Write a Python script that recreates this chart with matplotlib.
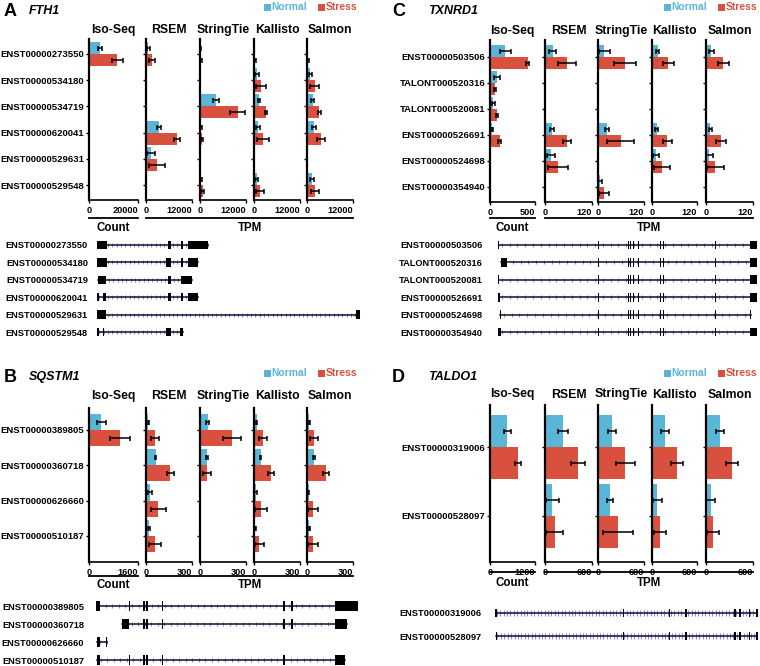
import numpy as np
import matplotlib.pyplot as plt
from matplotlib.patches import Rectangle

plt.rcParams['font.family'] = ['Liberation Sans', 'DejaVu Sans']
plt.rcParams['font.weight'] = 'bold'

W, H = 760, 666
NORMAL = '#5ab6d6'
STRESS = '#d9503f'

methods = ['Iso-Seq', 'RSEM', 'StringTie', 'Kallisto', 'Salmon']

# ---------------- A: FTH1 ----------------
fth1_tx = ['ENST00000273550', 'ENST00000534180', 'ENST00000534719',
           'ENST00000620041', 'ENST00000529631', 'ENST00000529548']
fth1_max = [20000, 12000, 12000, 12000, 12000]
fth1_norm = [[4500, 0, 0, 0, 0, 0],
             [600, 0, 0, 3400, 1300, 0],
             [150, 0, 4200, 200, 0, 200],
             [50, 700, 1300, 950, 0, 700],
             [50, 850, 1450, 1900, 0, 1300]]
fth1_norm_err = [[1000, 0, 0, 0, 0, 0],
                 [400, 0, 0, 500, 1000, 0],
                 [200, 0, 850, 200, 0, 200],
                 [0, 500, 300, 500, 0, 400],
                 [0, 400, 300, 500, 0, 400]]
fth1_str = [[11600, 0, 0, 0, 0, 0],
            [1550, 0, 0, 8050, 2850, 0],
            [350, 0, 9800, 450, 0, 700],
            [250, 1950, 3200, 2350, 0, 1650],
            [250, 2050, 3150, 3600, 0, 2150]]
fth1_str_err = [[2200, 0, 0, 0, 0, 0],
                [800, 0, 0, 700, 2000, 0],
                [300, 0, 1900, 300, 0, 400],
                [150, 1300, 300, 1500, 0, 1000],
                [150, 1200, 400, 1100, 0, 1000]]
fth1_exons = [[(0, 3.8), (27, 28.1), (31.9, 32.7), (34.6, 42.2)],
              [(0, 3.8), (26.2, 28.1), (31.9, 32.7), (34.6, 38.4)],
              [(0.4, 3.4), (27, 28.1), (31.9, 36.1)],
              [(0, 0.8), (2.3, 3.4), (27, 28.1), (31.9, 32.7), (34.6, 38.4)],
              [(0, 3.4), (98.5, 100)],
              [(0, 0.8), (2.3, 2.7), (26.2, 28.1), (31.6, 32.7)]]

# ---------------- B: SQSTM1 ----------------
sqstm1_tx = ['ENST00000389805', 'ENST00000360718', 'ENST00000626660', 'ENST00000510187']
sqstm1_max = [1600, 300, 300, 300, 300]
sqstm1_norm = [[400, 5, 0, 0],
               [15, 62, 26, 19],
               [49, 45, 0, 0],
               [17, 43, 11, 9],
               [15, 47, 11, 15]]
sqstm1_norm_err = [[150, 0, 0, 0],
                   [5, 6, 15, 8],
                   [8, 8, 0, 0],
                   [4, 4, 8, 5],
                   [5, 5, 5, 5]]
sqstm1_str = [[1000, 5, 0, 0],
              [58, 158, 81, 58],
              [210, 45, 0, 0],
              [56, 111, 45, 34],
              [47, 124, 39, 39]]
sqstm1_str_err = [[330, 0, 0, 0],
                  [27, 23, 51, 37],
                  [57, 27, 0, 0],
                  [26, 21, 38, 30],
                  [26, 18, 32, 32]]
sqstm1_exons = [[(0, 1.5), (12.5, 12.9), (17.8, 18.7), (19.1, 20.0), (25.2, 25.6),
                 (71.2, 72.1), (74.4, 75.1), (91.2, 100)],
                [(9.8, 12.6), (17.8, 18.7), (19.1, 20.0), (25.2, 25.6),
                 (71.2, 72.1), (74.4, 75.1), (91.2, 95.7)],
                [(0.3, 1.5), (3.9, 4.2)],
                [(0.5, 1.5), (12.5, 12.9), (17.8, 18.7), (19.1, 20.0), (25.2, 25.6),
                 (71.2, 72.1), (91.2, 95.0)]]

# ---------------- C: TXNRD1 ----------------
txnrd1_tx = ['ENST00000503506', 'TALONT000520316', 'TALONT000520081',
             'ENST00000526691', 'ENST00000524698', 'ENST00000354940']
txnrd1_max = [500, 120, 120, 120, 120]
txnrd1_norm = [[170, 76, 38, 27, 2, 0],
               [19.5, 0, 0, 18, 15, 1],
               [16.5, 0, 0, 23.5, 1, 6],
               [15.5, 0, 0, 13, 11, 0.5],
               [13.5, 0, 0, 11, 8.5, 0.5]]
txnrd1_norm_err = [[60, 30, 15, 10, 0, 0],
                   [9, 0, 0, 5, 10, 0],
                   [14, 0, 0, 5, 0, 5],
                   [4, 0, 0, 4, 8.5, 0],
                   [7, 0, 0, 4, 9, 0]]
txnrd1_str = [[417, 53, 80, 106, 2, 0],
              [56, 0, 0, 56, 33, 1],
              [71, 0, 0, 59, 0, 15.5],
              [43, 0, 0, 41, 26, 0.5],
              [44.5, 0, 0, 39, 24, 0.5]]
txnrd1_str_err = [[12, 10, 12, 12, 0, 0],
                  [22, 0, 0, 10, 26, 0],
                  [29, 0, 0, 35, 0, 12],
                  [15, 0, 0, 12, 21, 0],
                  [15, 0, 0, 13, 22, 0]]
txnrd1_inner = [(38.5, 39.0), (41.6, 41.8), (45.1, 45.3), (46.2, 46.4), (50.1, 50.6),
                (51.0, 51.4), (52.0, 52.5), (54.0, 54.5), (55.5, 55.7), (58.6, 58.8),
                (61.3, 61.5), (62.4, 62.9), (63.6, 64.0), (66.3, 66.5), (68.2, 68.4),
                (70.2, 70.4), (74.8, 75.0), (79.1, 79.3), (83.7, 84.2), (86.8, 87.0),
                (92.2, 92.4)]
txnrd1_first = [(0, 0.4), (1.2, 3.4), (0, 0.4), (0, 0.8), (0.8, 1.1), (0, 1.2)]
txnrd1_last = [(97.3, 100), (97.3, 100), (97.3, 100), (97.3, 100), (97.2, 97.5), (97.3, 100)]

# ---------------- D: TALDO1 ----------------
taldo1_tx = ['ENST00000319006', 'ENST00000528097']
taldo1_max = [1200, 600, 600, 600, 600]
taldo1_norm = [[462, 8], [227, 94], [184, 159], [176, 73], [176, 60]]
taldo1_norm_err = [[95, 0], [66, 81], [56, 41], [51, 58], [54, 60]]
taldo1_str = [[748, 8], [420, 124], [356, 257], [330, 107], [335, 90]]
taldo1_str_err = [[85, 0], [92, 107], [124, 193], [79, 83], [75, 81]]
taldo1_exons = [[(0, 0.8), (48.6, 49.1), (66.0, 66.5), (72.4, 72.9), (91.0, 91.6),
                 (92.9, 93.5), (96.4, 97.0), (99.4, 100)],
                [(0.3, 0.7), (48.6, 49.1), (66.0, 66.5), (72.4, 72.9), (91.0, 91.6),
                 (92.9, 93.5), (96.4, 97.0), (99.4, 100)]]

fig = plt.figure(figsize=(W / 100, H / 100), dpi=100)


def box(x0, y0, x1, y1):
    return [x0 / W, 1 - y1 / H, (x1 - x0) / W, (y1 - y0) / H]


over = fig.add_axes([0, 0, 1, 1])
over.set_xlim(0, W)
over.set_ylim(H, 0)
over.axis('off')


def bar_panel(xs, yt, yb, ylim, tx, norm, norm_err, stre, stre_err, xmax, tpad):
    rows = np.arange(len(tx))
    for k, (xa, xb) in enumerate(xs):
        ax = fig.add_axes(box(xa, yt, xb, yb))
        n, ne = np.array(norm[k], float), np.array(norm_err[k], float)
        s, se = np.array(stre[k], float), np.array(stre_err[k], float)
        ax.barh(rows - 0.23, n, height=0.46, color=NORMAL, lw=0)
        ax.barh(rows + 0.23, s, height=0.46, color=STRESS, lw=0)
        for v, e, off in [(n, ne, -0.23), (s, se, 0.23)]:
            m = e > 0
            if m.any():
                ax.errorbar(v[m], rows[m] + off, xerr=e[m], fmt='none', ecolor='black',
                            elinewidth=1.1, capsize=1.8, capthick=1.1)
        ax.set_xlim(0, xmax[k])
        ax.set_ylim(ylim[1], ylim[0])
        ax.set_xticks([0, xmax[k]])
        ax.set_xticklabels(['0', str(xmax[k])], fontsize=6.6)
        ax.get_xticklabels()[1].set_horizontalalignment('right')
        ax.set_yticks(rows)
        ax.set_yticklabels(tx if k == 0 else [], fontsize=6.8)
        ax.tick_params(axis='y', length=2.5, width=1, pad=1)
        ax.tick_params(axis='x', length=2.5, width=1, pad=1.5)
        ax.spines['top'].set_visible(False)
        ax.spines['right'].set_visible(False)
        ax.spines['left'].set_linewidth(1.6)
        ax.spines['bottom'].set_linewidth(1.2)
        ax.set_title(methods[k], fontsize=8.8, fontweight='bold', pad=tpad)


def gene_panel(xa, xb, yt, yb, ylim, tx, exons, hex_, step, pad):
    ax = fig.add_axes(box(xa, yt, xb, yb))
    ax.set_xlim(0, 100)
    ax.set_ylim(ylim[1], ylim[0])
    for i, ex in enumerate(exons):
        s = min(e[0] for e in ex)
        t = max(e[1] for e in ex)
        ax.vlines(np.arange(s + step / 2, t, step), i - 0.12, i + 0.12,
                  color='#8a8af0', lw=0.8, zorder=1)
        ax.plot([s, t], [i, i], color='#10102a', lw=1.1, zorder=2)
        for a, b in ex:
            ax.add_patch(Rectangle((a, i - hex_ / 2), b - a, hex_, color='black',
                                   lw=0, zorder=3))
    ax.set_yticks(range(len(tx)))
    ax.set_yticklabels(tx, fontsize=6.7)
    ax.tick_params(axis='y', length=0, pad=pad)
    ax.set_xticks([])
    for sp in ax.spines.values():
        sp.set_visible(False)


left_cols = [(89, 138), (146, 192), (200, 246), (254, 300), (307, 353)]
right_cols = [(490, 535), (545, 592), (598, 644), (652, 697), (706, 753)]

bar_panel(left_cols, 39, 200, (-0.57, 5.57), fth1_tx, fth1_norm, fth1_norm_err,
          fth1_str, fth1_str_err, fth1_max, 4)
bar_panel(right_cols, 40, 202, (-0.65, 5.58), txnrd1_tx, txnrd1_norm, txnrd1_norm_err,
          txnrd1_str, txnrd1_str_err, txnrd1_max, 4)
bar_panel(left_cols, 408, 562, (-0.62, 3.74), sqstm1_tx, sqstm1_norm, sqstm1_norm_err,
          sqstm1_str, sqstm1_str_err, sqstm1_max, 6.8)
bar_panel(right_cols, 405, 562, (-0.61, 1.67), taldo1_tx, taldo1_norm, taldo1_norm_err,
          taldo1_str, taldo1_str_err, taldo1_max, 5.4)

txnrd1_exons = [[f] + txnrd1_inner + [l] for f, l in zip(txnrd1_first, txnrd1_last)]
gene_panel(97, 360, 236.3, 340.7, (-0.5, 5.5), fth1_tx, fth1_exons, 0.48, 1.65, 6.5)
gene_panel(498, 757, 236.3, 340.7, (-0.5, 5.5), txnrd1_tx, txnrd1_exons, 0.5, 3.0, 11)
gene_panel(96, 358, 597, 666, (-0.5, 3.33), sqstm1_tx, sqstm1_exons, 0.55, 2.5, 8.5)
gene_panel(495, 758, 601.5, 647.5, (-0.5, 1.5), taldo1_tx, taldo1_exons, 0.32, 1.3, 9.4)

# panel headers, legends and unit underlines
headers = [('A', 'FTH1', 4, 29, 11, 0), ('C', 'TXNRD1', 392, 428, 11, 400),
           ('B', 'SQSTM1', 4, 29, 377, 0), ('D', 'TALDO1', 392, 428, 377, 400)]
for letter, gene, lx, gx, y, dx in headers:
    over.text(lx, y, letter, fontsize=13, fontweight='bold', va='center', ha='left')
    over.text(gx, y, gene, fontsize=9, fontweight='bold', style='italic', va='center', ha='left')
    over.add_patch(Rectangle((264 + dx, y - 7.5), 6.5, 7, color=NORMAL, lw=0))
    over.text(271.5 + dx, y - 3.5, 'Normal', color=NORMAL, fontsize=7.4, va='center', ha='left')
    over.add_patch(Rectangle((318 + dx, y - 7.5), 6.5, 7, color=STRESS, lw=0))
    over.text(325.5 + dx, y - 3.5, 'Stress', color=STRESS, fontsize=7.4, va='center', ha='left')

units = [(left_cols, 218, 228), (right_cols, 218, 228),
         (left_cols, 576, 585), (right_cols, 572, 583)]
for cols, yl, yt in units:
    over.plot([cols[0][0], cols[0][1]], [yl, yl], color='black', lw=1.3)
    over.plot([cols[1][0], cols[-1][1]], [yl, yl], color='black', lw=1.3)
    over.text((cols[0][0] + cols[0][1]) / 2, yt, 'Count', fontsize=8.3, ha='center', va='center')
    over.text((cols[1][0] + cols[-1][1]) / 2, yt, 'TPM', fontsize=8.3, ha='center', va='center')

fig.savefig('out.png', dpi=100)
